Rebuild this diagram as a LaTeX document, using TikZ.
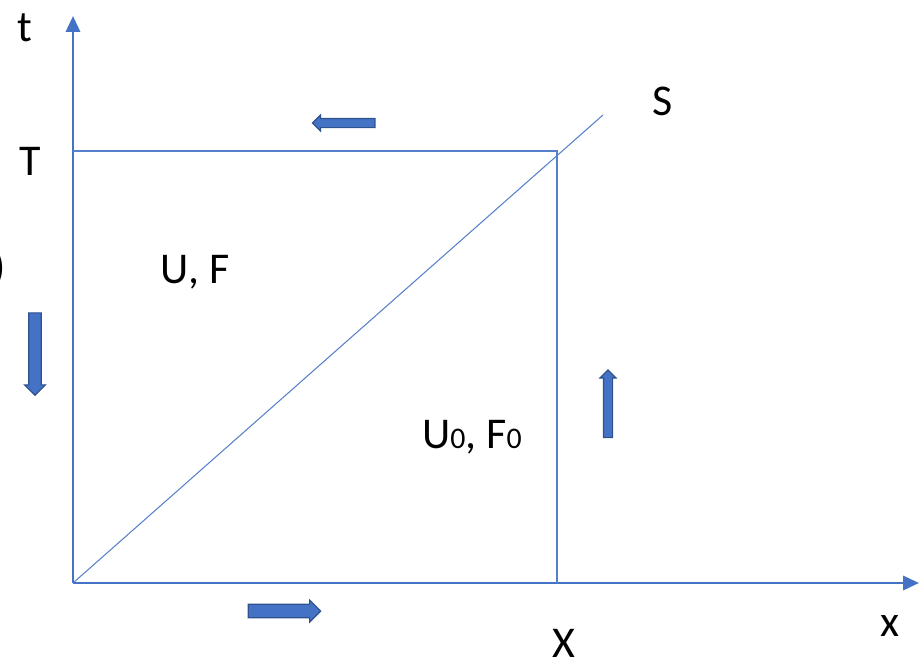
\documentclass[tikz,border=0pt]{standalone}
\usepackage{fontspec}
\setmainfont{Carlito}
\usetikzlibrary{arrows.meta, positioning, shapes.arrows}
\definecolor{axisblue}{RGB}{68, 114, 196}
\definecolor{flowedge}{RGB}{47, 82, 143}
\newcommand{\idx}[1]{{\fontsize{17}{20}\selectfont #1}}

\begin{document}
\begin{tikzpicture}[
  x=0.02cm, y=-0.02cm,
  axis/.style={draw=axisblue, line width=1.6pt, -{Triangle[length=9pt, width=8pt]}},
  thin/.style={draw=axisblue!90, line width=0.6pt},
  lbl/.style={font=\fontsize{25}{30}\selectfont, inner sep=0pt},
  flow/.style={single arrow, draw=flowedge, fill=axisblue, line width=0.7pt, inner sep=0.08cm, single arrow head extend=0.07cm, minimum width=0.3cm}
]
  \clip (0,0) rectangle (920,660);
  \useasboundingbox (0,0) rectangle (920,660);
  % axes
  \coordinate (O) at (73,583);
  \coordinate (tend) at (73,16);
  \coordinate (xend) at (919,583);
  \draw[axis] (O) -- (tend);
  \draw[axis] (O) -- (xend);
  % domain
  \coordinate (Tt) at (73,151);
  \coordinate (C) at (557,151);
  \coordinate (Xb) at (557,583);
  \coordinate (Send) at (603,115);
  \draw[thin] (Tt) -- (C) -- (Xb);
  \draw[thin] (O) -- (Send);
  % labels
  \node[lbl] (t) at (25,28) {t};
  \node[lbl] (T) at (30,161) {T};
  \node[lbl] (S) at (663,101) {S};
  \node[lbl] (x) at (890,626) {x};
  \node[lbl] (X) at (564,643) {X};
  \node[lbl, anchor=east] (paren) at (6,268) {)};
  \node[lbl] (UF) at (195,272) {U, F};
  \node[lbl] (UF0) at (472,437) {U\idx{0}, F\idx{0}};
  % flow arrows
  \node[flow, minimum height=1.25cm, shape border rotate=180] (fl) at (346,123) {};
  \node[flow, minimum height=1.65cm, shape border rotate=270, inner sep=0.09cm, minimum width=0.42cm] (fd) at (35,351) {};
  \node[flow, minimum height=1.35cm, shape border rotate=90] (fu) at (608,406) {};
  \node[flow, minimum height=1.45cm, inner sep=0.1cm, minimum width=0.44cm] (fr) at (281,611) {};
\end{tikzpicture}
\end{document}
